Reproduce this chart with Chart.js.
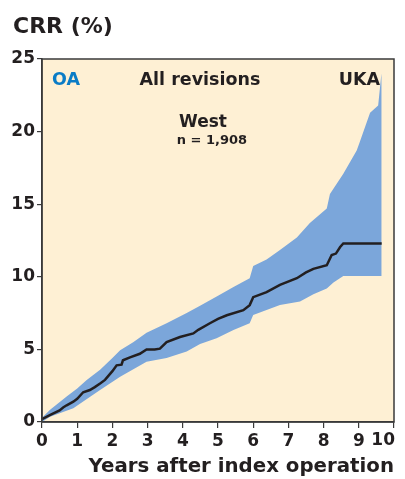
<!DOCTYPE html>
<html>
<head>
<meta charset="utf-8">
<script src="https://cdn.jsdelivr.net/npm/chart.js@4"></script>
<style>
  html, body { margin: 0; padding: 0; background: #fff; }
  #wrap { width: 405px; height: 479px; }
</style>
</head>
<body>
<div id="wrap"><canvas id="myChart" width="405" height="479"></canvas></div>
<script>
// cumulative revision rate, years after index operation
const lineX = [0, 0.25, 0.5, 0.6, 0.7, 0.89, 1.0, 1.17, 1.36, 1.5, 1.65, 1.79, 2.0, 2.12, 2.26, 2.3, 2.5, 2.78, 2.97, 3.2, 3.35, 3.54, 3.92, 4.3, 4.44, 4.77, 5.0, 5.25, 5.72, 5.9, 6.0, 6.38, 6.76, 7.24, 7.5, 7.71, 8.09, 8.23, 8.35, 8.47, 8.56, 9.65];
const lineY = [0.2, 0.5, 0.8, 1.0, 1.15, 1.4, 1.6, 2.05, 2.2, 2.4, 2.65, 2.9, 3.5, 3.9, 3.95, 4.25, 4.45, 4.7, 5.0, 5.0, 5.05, 5.5, 5.85, 6.1, 6.35, 6.8, 7.1, 7.35, 7.7, 8.05, 8.6, 8.95, 9.45, 9.9, 10.3, 10.55, 10.8, 11.5, 11.6, 12.05, 12.3, 12.3];

const upperX = [0, 0.23, 0.7, 1.0, 1.27, 1.65, 2.0, 2.22, 2.59, 2.97, 3.54, 4.11, 4.49, 5.0, 5.44, 5.9, 6.0, 6.38, 6.76, 7.24, 7.61, 8.09, 8.18, 8.56, 8.94, 9.03, 9.32, 9.55, 9.63, 9.65];
const upperY = [0.3, 0.85, 1.75, 2.3, 2.9, 3.6, 4.4, 4.95, 5.5, 6.15, 6.8, 7.5, 8.0, 8.7, 9.3, 9.9, 10.75, 11.2, 11.85, 12.7, 13.7, 14.7, 15.7, 17.1, 18.7, 19.3, 21.3, 21.8, 23.7, 24.0];

const lowerX = [0, 0.23, 0.89, 1.65, 2.22, 2.97, 3.54, 4.11, 4.49, 4.96, 5.44, 5.9, 6.0, 6.76, 7.33, 7.71, 8.09, 8.28, 8.56, 9.65];
const lowerY = [0, 0.37, 0.94, 2.2, 3.12, 4.15, 4.4, 4.85, 5.37, 5.76, 6.34, 6.8, 7.37, 8.06, 8.3, 8.8, 9.2, 9.6, 10.05, 10.05];

const xTicks = [0, 1, 2, 3, 4, 5, 6, 7, 8, 9, 10];
const yTicks = [0, 5, 10, 15, 20, 25];

const FONT = "'DejaVu Sans', sans-serif";
const INK = "#231f20";
const BAND = "#7ba6da";

function pts(xs, ys) {
    return xs.map((x, i) => ({ x: x, y: ys[i] }));
}

const plotBox = {
    id: 'plotBox',
    beforeDraw(chart) {
        const { ctx, chartArea: a } = chart;
        ctx.save();
        ctx.fillStyle = "#fef0d4";
        ctx.fillRect(a.left, a.top, a.right - a.left, a.bottom - a.top);
        ctx.restore();
    },
    afterDraw(chart) {
        const { ctx, chartArea: a } = chart;
        const xs = chart.scales.x;
        ctx.save();
        ctx.strokeStyle = "#3a3a3a";
        ctx.lineWidth = 1.5;
        ctx.strokeRect(a.left, a.top, a.right - a.left, a.bottom - a.top);

        ctx.fillStyle = INK;
        ctx.textBaseline = 'alphabetic';
        ctx.font = "bold 22px " + FONT;
        ctx.textAlign = 'left';
        ctx.fillText("CRR (%)", 13, 33);

        // last x label sits left of its tick in the original
        const last = xTicks[xTicks.length - 1];
        ctx.font = "bold 17px " + FONT;
        ctx.textAlign = 'right';
        ctx.textBaseline = 'top';
        ctx.fillText(String(last), xs.getPixelForValue(last) + 1, a.bottom + 10);
        ctx.textBaseline = 'alphabetic';

        ctx.font = "bold 17.5px " + FONT;
        ctx.textAlign = 'left';
        ctx.fillStyle = "#0a7cc6";
        ctx.fillText("OA", a.left + 10, a.top + 26);
        ctx.fillStyle = INK;
        ctx.textAlign = 'center';
        ctx.fillText("All revisions", 200, a.top + 26);
        ctx.textAlign = 'right';
        ctx.fillText("UKA", a.right - 14, a.top + 26);

        ctx.font = "bold 17px " + FONT;
        ctx.textAlign = 'center';
        ctx.fillText("West", 203, a.top + 68);
        ctx.font = "bold 13px " + FONT;
        ctx.fillText("n = 1,908", 212, a.top + 85);
        ctx.restore();
    }
};

const config = {
    type: 'line',
    data: {
        datasets: [
            {
                label: "lower",
                data: pts(lowerX, lowerY),
                borderWidth: 0,
                pointRadius: 0,
                fill: false,
                order: 3
            },
            {
                label: "upper",
                data: pts(upperX, upperY),
                borderWidth: 0,
                pointRadius: 0,
                backgroundColor: BAND,
                fill: 0,
                order: 2
            },
            {
                label: "CRR",
                data: pts(lineX, lineY),
                borderColor: INK,
                borderWidth: 2.5,
                pointRadius: 0,
                fill: false,
                order: 1
            }
        ]
    },
    options: {
        responsive: false,
        animation: false,
        layout: { padding: { top: 59, right: 11, left: 0, bottom: 0 } },
        plugins: { legend: { display: false }, tooltip: { enabled: false } },
        scales: {
            x: {
                type: 'linear',
                min: 0,
                max: 10,
                afterBuildTicks: (s) => { s.ticks = xTicks.map(v => ({ value: v })); },
                afterFit: (s) => { s.height = 57; s.paddingRight = 0; },
                border: { display: true, color: "#3a3a3a", width: 1.5 },
                grid: { drawOnChartArea: false, tickLength: 6, color: "#3a3a3a", lineWidth: 1.2 },
                ticks: {
                    color: INK,
                    font: { family: FONT, size: 17, weight: 'bold' },
                    padding: 3,
                    maxRotation: 0,
                    autoSkip: false,
                    callback: (v) => (v === xTicks[xTicks.length - 1] ? '' : String(v))
                },
                title: {
                    display: true,
                    text: "Years after index operation",
                    align: 'end',
                    color: INK,
                    font: { family: FONT, size: 19.8, weight: 'bold' },
                    padding: { top: 4, bottom: 0 }
                }
            },
            y: {
                min: 0,
                max: 25,
                afterBuildTicks: (s) => { s.ticks = yTicks.map(v => ({ value: v })); },
                afterFit: (s) => { s.width = 42; },
                border: { display: true, color: "#3a3a3a", width: 1.5 },
                grid: { drawOnChartArea: false, tickLength: 5, color: "#3a3a3a", lineWidth: 1.2 },
                ticks: { color: INK, font: { family: FONT, size: 17, weight: 'bold' }, padding: 2 }
            }
        }
    },
    plugins: [plotBox]
};

const myChart = new Chart(document.getElementById("myChart"), config);
</script>
</body>
</html>
